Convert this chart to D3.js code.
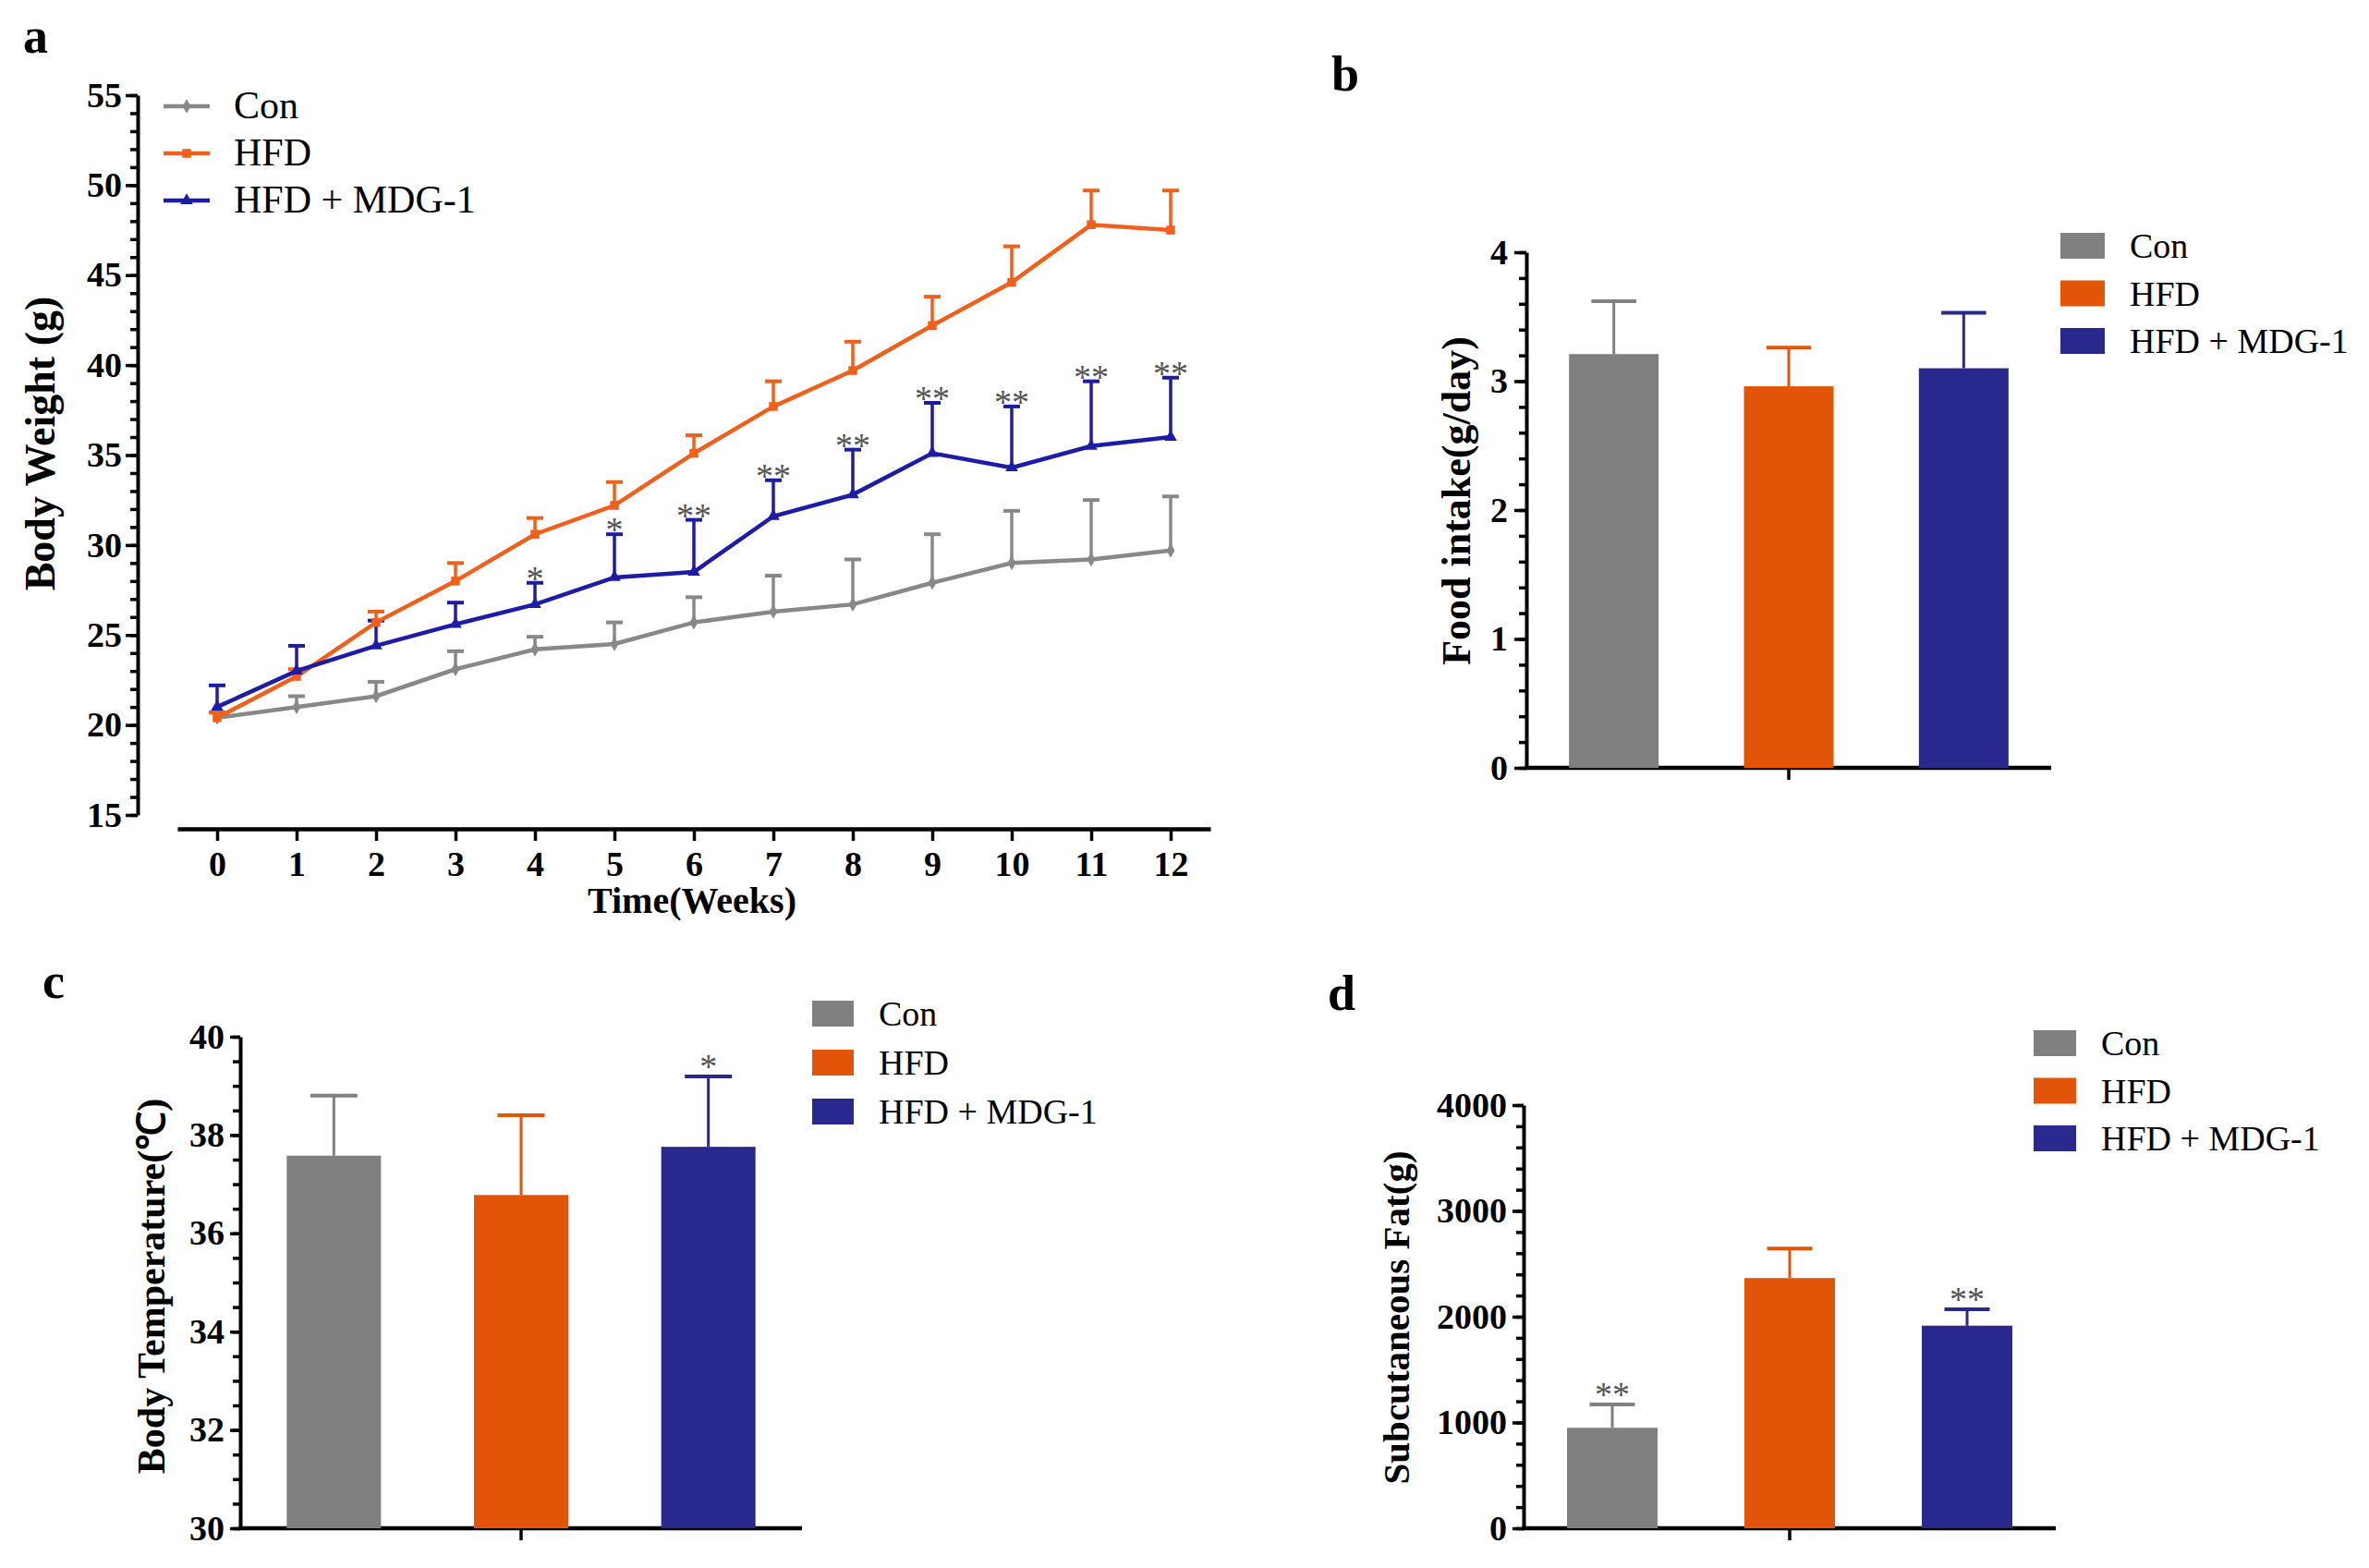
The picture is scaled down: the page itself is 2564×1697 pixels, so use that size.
<!DOCTYPE html>
<html>
<head>
<meta charset="utf-8">
<script src="https://cdn.jsdelivr.net/npm/d3@7"></script>
<style>
  body { margin: 0; background: #fff; }
  svg { font-family: "Liberation Serif", "Times New Roman", serif; }
</style>
</head>
<body>
<div id="chart"></div>
<script>
// data
const groups = ['Con', 'HFD', 'HFD + MDG-1'];
const colors = ['#808080', '#e25508', '#28288f'];
const lineColors = ['#888888', '#f0601c', '#1c1ca6'];

const weeks = [0, 1, 2, 3, 4, 5, 6, 7, 8, 9, 10, 11, 12];
const conWeight = [20.4, 21.0, 21.6, 23.1, 24.2, 24.5, 25.7, 26.3, 26.7, 27.9, 29.0, 29.2, 29.7];
const conSd     = [0.3, 0.6, 0.8, 1.0, 0.7, 1.2, 1.4, 2.0, 2.5, 2.7, 2.9, 3.3, 3.0];
const hfdWeight = [20.4, 22.7, 25.7, 28.0, 30.6, 32.2, 35.1, 37.7, 39.7, 42.2, 44.6, 47.8, 47.5];
const hfdSd     = [0.3, 0.4, 0.6, 1.0, 0.9, 1.3, 1.0, 1.4, 1.6, 1.6, 2.0, 1.9, 2.2];
const mdgWeight = [21.0, 23.0, 24.4, 25.6, 26.7, 28.2, 28.5, 31.6, 32.8, 35.1, 34.3, 35.5, 36.0];
const mdgSd     = [1.2, 1.4, 1.4, 1.2, 1.2, 2.4, 2.9, 2.0, 2.5, 2.8, 3.4, 3.6, 3.3];
const mdgSig    = ['', '', '', '', '*', '*', '**', '**', '**', '**', '**', '**', '**'];

const foodIntake = [3.21, 2.96, 3.10];
const foodSd     = [0.41, 0.30, 0.43];
const foodSig    = ['', '', ''];

const bodyTemp   = [37.58, 36.78, 37.76];
const tempSd     = [1.22, 1.62, 1.43];
const tempSig    = ['', '', '*'];

const subFat     = [950, 2365, 1915];
const fatSd      = [220, 280, 155];
const fatSig     = ['**', '', '**'];

const svg = d3.select('#chart').append('svg')
  .attr('width', 2564).attr('height', 1697);

function styleAxis(g, width) {
  g.select('.domain').attr('stroke', '#000').attr('stroke-width', width);
  g.selectAll('.tick line').attr('stroke', '#000').attr('stroke-width', 3.5);
  g.selectAll('.tick text').attr('fill', '#000')
    .attr('font-size', 38).attr('font-weight', 'bold')
    .attr('font-family', '"Liberation Serif", serif');
}

function yAxis(x, y, majors, minors, tickLen, pad) {
  svg.append('g').attr('transform', `translate(${x},0)`)
    .call(d3.axisLeft(y).tickValues(minors).tickSize(8).tickFormat(''))
    .call(g => g.select('.domain').remove())
    .call(g => g.selectAll('.tick line').attr('stroke', '#000').attr('stroke-width', 3.5));
  svg.append('g').attr('transform', `translate(${x},0)`)
    .call(d3.axisLeft(y).tickValues(majors).tickSize(tickLen).tickSizeOuter(0)
      .tickPadding(pad).tickFormat(d => String(d)))
    .call(g => styleAxis(g, 4));
}

function label(txt, x, y) {
  svg.append('text').attr('x', x).attr('y', y)
    .attr('font-size', 54).attr('font-weight', 'bold').text(txt);
}

function yTitle(txt, cx, cy, size) {
  svg.append('text')
    .attr('transform', `translate(${cx + size * 0.33},${cy}) rotate(-90)`)
    .attr('text-anchor', 'middle')
    .attr('font-size', size).attr('font-weight', 'bold')
    .text(txt);
}

// ---------- panel a: body weight lines ----------
const xA = d3.scaleLinear().domain([-0.5, 12.5]).range([192, 1310]);
const yA = d3.scaleLinear().domain([15, 55]).range([882, 103]);

label('a', 25, 57);
yAxis(149, yA, d3.range(15, 56, 5), d3.range(15, 56, 1), 13, 4);

svg.append('g').attr('transform', 'translate(0,897)')
  .call(d3.axisBottom(xA).tickValues(weeks).tickSize(13).tickSizeOuter(0).tickPadding(11))
  .call(g => styleAxis(g, 4.5));

yTitle('Body Weight (g)', 44, 480, 46);
svg.append('text').attr('x', 749).attr('y', 988)
  .attr('text-anchor', 'middle').attr('font-size', 40).attr('font-weight', 'bold')
  .text('Time(Weeks)');

const seriesA = [
  { name: groups[0], mean: conWeight, sd: conSd, color: lineColors[0], sym: d3.symbolDiamond, size: 70 },
  { name: groups[1], mean: hfdWeight, sd: hfdSd, color: lineColors[1], sym: d3.symbolSquare, size: 90 },
  { name: groups[2], mean: mdgWeight, sd: mdgSd, color: lineColors[2], sym: d3.symbolTriangle, size: 80 }
];

const line = d3.line().x((d, i) => xA(weeks[i])).y(d => yA(d));

seriesA.forEach(s => {
  const g = svg.append('g');
  // error bars (upper only)
  g.selectAll('line.err').data(s.mean).join('line')
    .attr('x1', (d, i) => xA(weeks[i])).attr('x2', (d, i) => xA(weeks[i]))
    .attr('y1', d => yA(d)).attr('y2', (d, i) => yA(d + s.sd[i]))
    .attr('stroke', s.color).attr('stroke-width', 3.5);
  g.selectAll('line.cap').data(s.mean).join('line')
    .attr('x1', (d, i) => xA(weeks[i]) - 9).attr('x2', (d, i) => xA(weeks[i]) + 9)
    .attr('y1', (d, i) => yA(d + s.sd[i])).attr('y2', (d, i) => yA(d + s.sd[i]))
    .attr('stroke', s.color).attr('stroke-width', 4);
});

seriesA.forEach(s => {
  svg.append('path').datum(s.mean).attr('d', line)
    .attr('fill', 'none').attr('stroke', s.color).attr('stroke-width', 4.5);
  svg.append('g').selectAll('path').data(s.mean).join('path')
    .attr('transform', (d, i) => `translate(${xA(weeks[i])},${yA(d)})`)
    .attr('d', d3.symbol(s.sym, s.size)).attr('fill', s.color);
});

// significance marks above HFD + MDG-1
svg.append('g').selectAll('text').data(mdgWeight).join('text')
  .attr('x', (d, i) => xA(weeks[i]))
  .attr('y', (d, i) => yA(d + mdgSd[i]) + 8)
  .attr('text-anchor', 'middle').attr('font-size', 38).attr('fill', '#555')
  .text((d, i) => mdgSig[i]);

// legend a
const legA = svg.append('g');
seriesA.forEach((s, i) => {
  const cy = 115 + i * 51;
  legA.append('line').attr('x1', 177).attr('x2', 227).attr('y1', cy).attr('y2', cy)
    .attr('stroke', s.color).attr('stroke-width', 4.5);
  legA.append('path').attr('transform', `translate(202,${cy})`)
    .attr('d', d3.symbol(s.sym, s.size)).attr('fill', s.color);
  legA.append('text').attr('x', 253).attr('y', cy + 13)
    .attr('font-size', 42).text(s.name);
});

// ---------- bar panels ----------
function barPanel(o) {
  const x = d3.scalePoint().domain(groups).range([o.x0, o.x1]).padding(0.5);
  const y = d3.scaleLinear().domain(o.domain).range([o.y0, o.y1]);

  label(o.letter, o.lx, o.ly);
  yAxis(o.x0, y, o.majors, o.minors, o.tickLen, o.pad);

  // x axis line with centre tick
  svg.append('line').attr('x1', o.x0 - 2).attr('x2', o.x1).attr('y1', o.y0).attr('y2', o.y0)
    .attr('stroke', '#000').attr('stroke-width', 4.5);
  svg.append('line').attr('x1', x(groups[1])).attr('x2', x(groups[1]))
    .attr('y1', o.y0).attr('y2', o.y0 + 13).attr('stroke', '#000').attr('stroke-width', 3.5);

  const g = svg.append('g');
  g.selectAll('line.err').data(o.values).join('line')
    .attr('x1', (d, i) => x(groups[i])).attr('x2', (d, i) => x(groups[i]))
    .attr('y1', d => y(d)).attr('y2', (d, i) => y(d + o.sd[i]))
    .attr('stroke', (d, i) => colors[i]).attr('stroke-width', 3);
  g.selectAll('line.cap').data(o.values).join('line')
    .attr('x1', (d, i) => x(groups[i]) - o.bw / 4).attr('x2', (d, i) => x(groups[i]) + o.bw / 4)
    .attr('y1', (d, i) => y(d + o.sd[i])).attr('y2', (d, i) => y(d + o.sd[i]))
    .attr('stroke', (d, i) => colors[i]).attr('stroke-width', 4);
  g.selectAll('rect').data(o.values).join('rect')
    .attr('x', (d, i) => x(groups[i]) - o.bw / 2).attr('width', o.bw)
    .attr('y', d => y(d)).attr('height', d => o.y0 - y(d))
    .attr('fill', (d, i) => colors[i]);
  g.selectAll('text').data(o.values).join('text')
    .attr('x', (d, i) => x(groups[i]))
    .attr('y', (d, i) => y(d + o.sd[i]) + 2)
    .attr('text-anchor', 'middle').attr('font-size', 38).attr('fill', '#555')
    .text((d, i) => o.sig[i]);

  yTitle(o.title, o.tx, o.ty, o.tsize);

  groups.forEach((name, i) => {
    const cy = o.legY + i * o.legStep;
    svg.append('rect').attr('x', o.legX).attr('y', cy - 14).attr('width', o.legW).attr('height', 28)
      .attr('fill', colors[i]);
    svg.append('text').attr('x', o.legX + o.legW + 27).attr('y', cy + 13)
      .attr('font-size', 38).text(name);
  });
}

barPanel({
  letter: 'b', lx: 1441, ly: 98,
  x0: 1652, x1: 2220, y0: 831, y1: 273, domain: [0, 4],
  majors: d3.range(0, 5, 1), minors: d3.range(0, 4.01, 0.2), tickLen: 13, pad: 7,
  bw: 97, values: foodIntake, sd: foodSd, sig: foodSig,
  title: 'Food intake(g/day)', tx: 1576, ty: 542, tsize: 44,
  legX: 2230, legW: 48, legY: 266, legStep: 51.5
});

barPanel({
  letter: 'c', lx: 46, ly: 1080,
  x0: 260, x1: 868, y0: 1654, y1: 1122, domain: [30, 40],
  majors: d3.range(30, 41, 2), minors: d3.range(30, 40.01, 0.5), tickLen: 11, pad: 6,
  bw: 102, values: bodyTemp, sd: tempSd, sig: tempSig,
  title: 'Body Temperature(℃)', tx: 164, ty: 1392, tsize: 42,
  legX: 879, legW: 45, legY: 1097, legStep: 53
});

barPanel({
  letter: 'd', lx: 1437, ly: 1093,
  x0: 1649, x1: 2225, y0: 1654, y1: 1196, domain: [0, 4000],
  majors: d3.range(0, 4001, 1000), minors: d3.range(0, 4001, 200), tickLen: 12, pad: 6,
  bw: 98, values: subFat, sd: fatSd, sig: fatSig,
  title: 'Subcutaneous Fat(g)', tx: 1511, ty: 1426, tsize: 41,
  legX: 2201, legW: 46, legY: 1129, legStep: 51.5
});
</script>
</body>
</html>
